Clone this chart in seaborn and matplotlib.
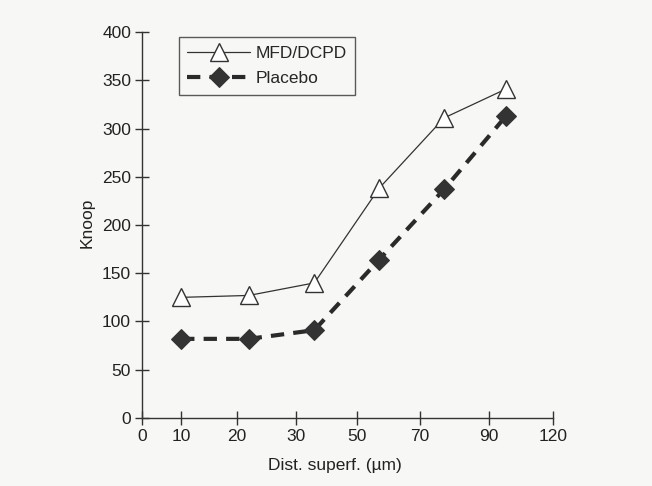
import numpy as np
import pandas as pd
import matplotlib
matplotlib.use('Agg')
import matplotlib.pyplot as plt
import seaborn as sns

# values
dist = [10, 22, 36, 57, 77, 98]
mfd_dcpd = [125, 127, 140, 238, 311, 341]
placebo = [82, 82, 91, 164, 237, 313]

x_ticks = [0, 10, 20, 30, 50, 70, 90, 120]
# the printed axis is not evenly spaced; relative tick spacing as printed
x_tick_pos = [0, 39, 95, 154, 215, 278, 347, 411]
y_ticks = list(range(0, 401, 50))

df = pd.DataFrame({
    'dist': dist * 2,
    'knoop': mfd_dcpd + placebo,
    'group': ['MFD/DCPD'] * len(dist) + ['Placebo'] * len(dist),
})

sns.set_style('white')
plt.rcParams['font.family'] = ['Liberation Sans', 'DejaVu Sans']

fig = plt.figure(figsize=(6.52, 4.86), dpi=100, facecolor='#f7f7f5')
ax = fig.add_axes([0.218, 0.140, 0.630, 0.794])
ax.set_facecolor('#f7f7f5')


def fwd(x):
    return np.interp(x, x_ticks, x_tick_pos, left=-1e6, right=1e6)


def inv(p):
    return np.interp(p, x_tick_pos, x_ticks)


ax.set_xscale('function', functions=(fwd, inv))

sns.lineplot(data=df[df.group == 'MFD/DCPD'], x='dist', y='knoop', ax=ax,
             color='#333333', lw=0.9, marker='^', markersize=13,
             markerfacecolor='white', markeredgecolor='#333333', markeredgewidth=1.0,
             label='MFD/DCPD')
sns.lineplot(data=df[df.group == 'Placebo'], x='dist', y='knoop', ax=ax,
             color='#2a2a2a', lw=3, dashes=False, linestyle=(0, (3.2, 2.2)),
             marker='D', markersize=10, markerfacecolor='#333333',
             markeredgecolor='#333333', label='Placebo')

ax.set_xlim(0, 120)
ax.set_ylim(0, 400)
ax.set_xticks(x_ticks)
ax.set_xticklabels([str(t) for t in x_ticks])
ax.set_yticks(y_ticks)
ax.minorticks_off()

for s in ['top', 'right']:
    ax.spines[s].set_visible(False)
for s in ['left', 'bottom']:
    ax.spines[s].set_color('#333333')
    ax.spines[s].set_linewidth(1.0)

ax.tick_params(axis='both', direction='inout', length=10, width=1.0,
               color='#333333', labelsize=12.5, labelcolor='#222222',
               bottom=True, left=True)
ax.tick_params(axis='x', pad=3)
ax.tick_params(axis='y', pad=3)

ax.set_xlabel('Dist. superf. (µm)', fontsize=12.5, color='#222222')
ax.set_ylabel('Knoop', fontsize=12.5, color='#222222')
ax.xaxis.set_label_coords(0.47, -0.103)
ax.yaxis.set_label_coords(-0.115, 0.505)

leg = ax.legend(loc='upper left', bbox_to_anchor=(0.068, 1.01), frameon=True,
                fancybox=False, edgecolor='#333333', fontsize=12.5,
                handlelength=3.6, borderpad=0.5, labelspacing=0.6,
                handletextpad=0.3)
leg.get_frame().set_linewidth(1.0)
leg.get_frame().set_facecolor('#f7f7f5')

fig.savefig('out.png', dpi=100, facecolor=fig.get_facecolor())
